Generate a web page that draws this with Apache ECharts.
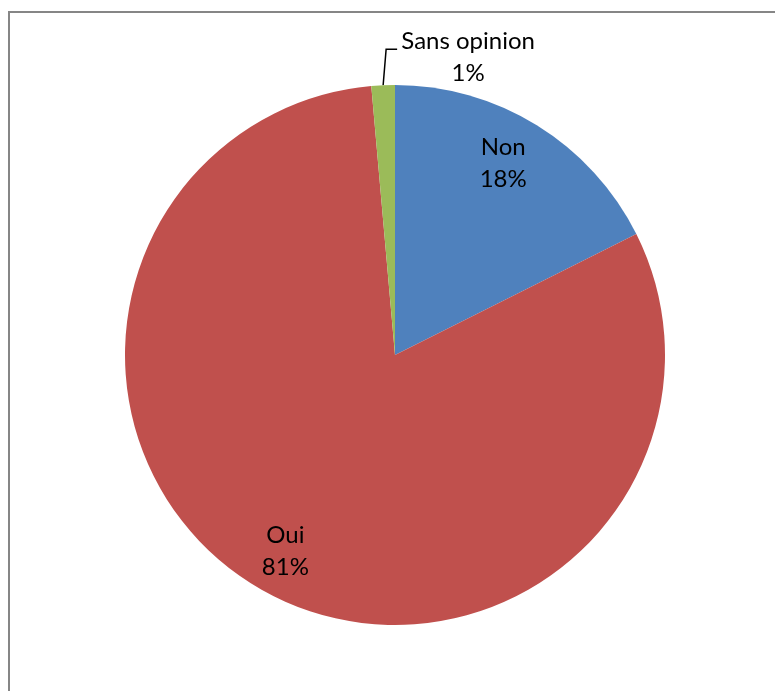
<!DOCTYPE html>
<html>
<head>
<meta charset="utf-8">
<script src="https://cdn.jsdelivr.net/npm/echarts@6/dist/echarts.min.js"></script>
<style>
  html, body { margin: 0; padding: 0; background: #fff; }
  #main { width: 775px; height: 691px; }
</style>
</head>
<body>
<div id="main"></div>
<script>
var categories = ["Non", "Oui", "Sans opinion"];
var values = [17.6, 81.0, 1.4];
var colors = ["#4F81BD", "#C0504D", "#9BBB59"];

var chart = echarts.init(document.getElementById("main"));

var pieData = categories.map(function (name, i) {
  return { name: name, value: values[i], itemStyle: { color: colors[i] } };
});

function pct(p) {
  return Math.round(p.percent) + "%";
}

var option = {
  animation: false,
  backgroundColor: "#fff",
  textStyle: { fontFamily: "Lato" },
  graphic: [
    {
      type: "rect",
      shape: { x: 9, y: 12, width: 900, height: 900 },
      style: { fill: "none", stroke: "#868686", lineWidth: 2 },
      silent: true
    }
  ],
  series: [
    {
      // 扇区本体 + 外部标签（Sans opinion）
      type: "pie",
      center: [395, 355],
      radius: [0, 270],
      startAngle: 90,
      clockwise: true,
      silent: true,
      data: pieData.map(function (d, i) {
        var item = Object.assign({}, d);
        item.label = { show: i === 2 };
        item.labelLine = { show: i === 2 };
        return item;
      }),
      label: {
        position: "outside",
        color: "#000",
        fontSize: 24,
        lineHeight: 32,
        formatter: function (p) {
          return "{t|" + p.name + "}\n{t|" + pct(p) + "}";
        },
        rich: {
          t: { width: 140, align: "center", fontSize: 24, lineHeight: 32, color: "#000", fontFamily: "Lato" }
        }
      },
      labelLine: {
        length: 35,
        length2: 12,
        lineStyle: { color: "#000", width: 1.5 }
      },
      labelLayout: function (params) {
        if (params.dataIndex !== 2 || !params.labelLinePoints) return {};
        var p1 = params.labelLinePoints[0];
        var p2 = [p1[0] + 3, p1[1] - 36];
        var p3 = [p1[0] + 14, p1[1] - 36];
        return {
          x: p3[0] + 1,
          y: p3[1] + 8,
          align: "left",
          verticalAlign: "middle",
          labelLinePoints: [p1, p2, p3]
        };
      }
    },
    {
      // 透明环，只用来放内部标签
      type: "pie",
      center: [395, 355],
      radius: [174, 270],
      startAngle: 90,
      clockwise: true,
      silent: true,
      itemStyle: { color: "rgba(0,0,0,0)", borderWidth: 0 },
      data: categories.map(function (name, i) {
        var lbl = { show: i !== 2 };
        if (i === 0) lbl.offset = [-10, 0];
        return { name: name, value: values[i], label: lbl };
      }),
      label: {
        position: "inside",
        color: "#000",
        fontSize: 24,
        lineHeight: 32,
        formatter: function (p) {
          return p.name + "\n" + pct(p);
        }
      },
      labelLine: { show: false }
    }
  ]
};

chart.setOption(option);
</script>
</body>
</html>
